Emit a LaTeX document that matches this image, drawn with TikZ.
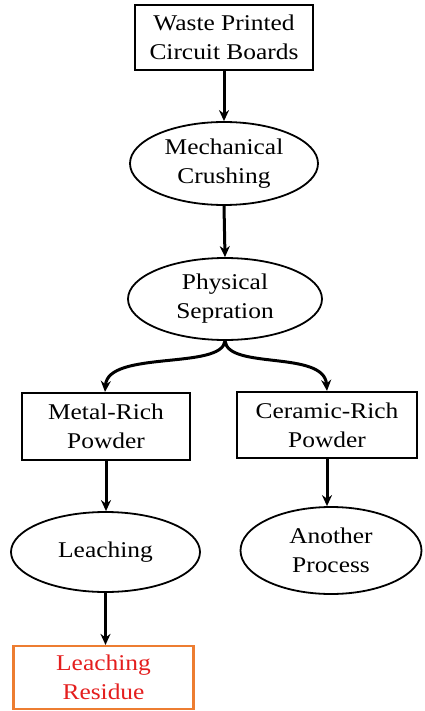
\documentclass[tikz,border=0pt]{standalone}
\usepackage{fontspec}
\setmainfont{Liberation Serif}[FakeStretch=1.13]
\usetikzlibrary{shapes.geometric,arrows.meta}
\definecolor{resorange}{HTML}{ED7D31}
\definecolor{resred}{HTML}{E41E1E}
\begin{document}
\begin{tikzpicture}[x=1pt,y=-1pt,
  every node/.style={font=\fontsize{22.5}{29}\selectfont, align=center, inner sep=0pt},
  stepbox/.style={draw, line width=2.2pt, rectangle},
  stepoval/.style={draw, line width=1.8pt, ellipse},
  flow/.style={line width=3pt, -{Stealth[length=11pt,width=10pt]}}]
\useasboundingbox (0,0) rectangle (424,711);

% process chain
\node[stepbox, minimum width=178pt, minimum height=65pt] (wpcb) at (224,37.5) {Waste Printed\\Circuit Boards};
\node[stepoval, minimum width=188pt, minimum height=83pt] (crush) at (224,163.5) {Mechanical\\Crushing};
\node[stepoval, minimum width=194pt, minimum height=82pt] (sep) at (225,299) {Physical\\Sepration};
\node[stepbox, minimum width=168pt, minimum height=67pt] (metal) at (106,426.5) {Metal-Rich\\Powder};
\node[stepbox, minimum width=180pt, minimum height=66pt] (ceramic) at (327,425) {Ceramic-Rich\\Powder};
\node[stepoval, minimum width=189pt, minimum height=80pt] (leach) at (105.5,552) {Leaching};
\node[stepoval, minimum width=181pt, minimum height=87pt] (other) at (331,550.5) {Another\\Process};
\node[draw=resorange, line width=2.2pt, minimum width=180pt, minimum height=63pt, text=resred] (residue) at (103.5,677.5) {Leaching\\Residue};

% connectors
\draw[flow] (sep.south) .. controls (222,370) and (108,350) .. (metal.north -| 105,0);
\draw[flow] (sep.south) .. controls (228,370) and (324,350) .. (ceramic.north);
\draw[flow] (wpcb.south) -- (crush.north);
\draw[flow] (crush.south) -- (sep.north);
\draw[flow] (metal.south) -- (leach.north -| metal.south);
\draw[flow] (ceramic.south) -- (other.north -| ceramic.south);
\draw[flow] (leach.south) -- (residue.north -| leach.south);
\end{tikzpicture}
\end{document}
